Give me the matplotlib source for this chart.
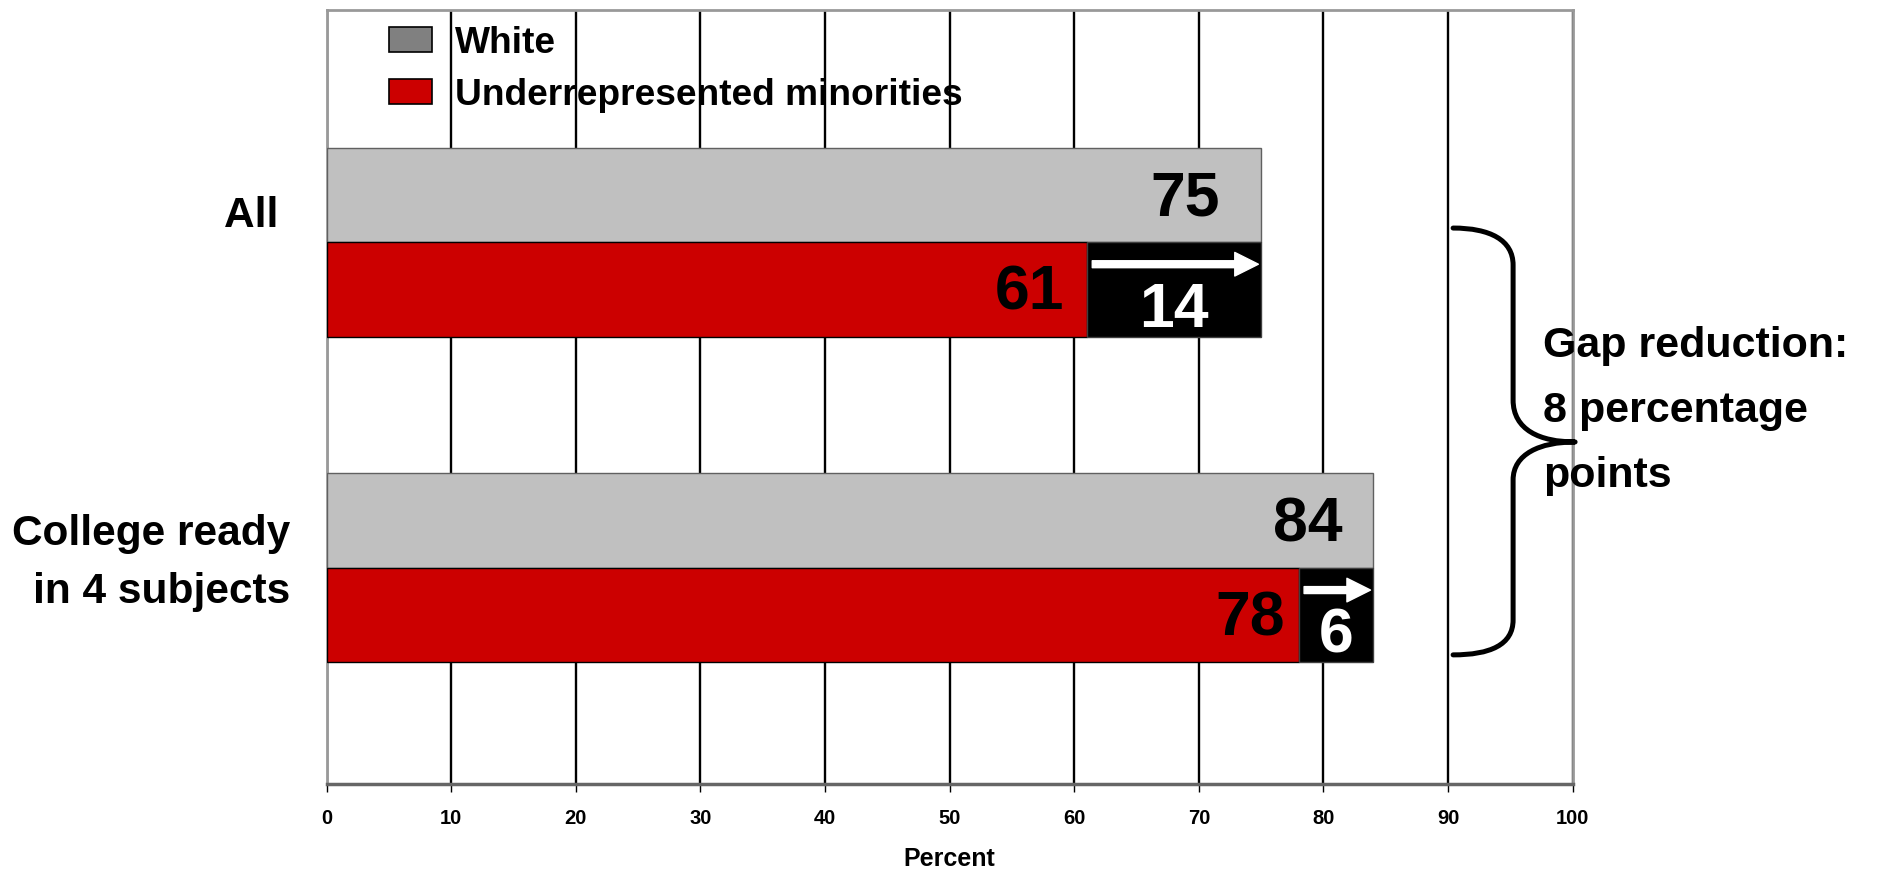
import numpy as np
import matplotlib.pyplot as plt
from matplotlib.patches import Patch, PathPatch
from matplotlib.path import Path

# data
groups = ["All ", "College ready\nin 4 subjects"]
white = [75, 84]
urm = [61, 78]
series_names = ["White", "Underrepresented minorities"]
gap_note = "Gap reduction:\n8 percentage\npoints"
xticks = np.arange(0, 101, 10)

plt.rcParams['font.family'] = ['Liberation Sans', 'DejaVu Sans']
plt.rcParams['font.weight'] = 'bold'
plt.rcParams['axes.labelweight'] = 'bold'

GRAY = '#C0C0C0'
RED = '#CC0000'

fig = plt.figure(figsize=(19.04, 8.73), dpi=100)
ax = fig.add_axes([0.1715, 0.102, 0.6545, 0.8865])

y = np.arange(len(groups))
h = 0.29
white_a = np.array(white)
urm_a = np.array(urm)
gaps = white_a - urm_a

ax.barh(y - h / 2, white_a, height=h, color=GRAY, edgecolor='#606060', linewidth=1, zorder=3)
ax.barh(y + h / 2, urm_a, height=h, color=RED, edgecolor='black', linewidth=1, zorder=3)
ax.barh(y + h / 2, gaps, left=urm_a, height=h, color='black', edgecolor='#404040', linewidth=1, zorder=3)

# value labels inside the bars
white_pad = [30, 22]
urm_pad = [16, 10]
for i in range(len(groups)):
    ax.annotate(str(white_a[i]), xy=(white_a[i], y[i] - h / 2), xytext=(-white_pad[i], -3),
                textcoords='offset points', ha='right', va='center', fontsize=45, zorder=5)
    ax.annotate(str(urm_a[i]), xy=(urm_a[i], y[i] + h / 2), xytext=(-urm_pad[i], -3),
                textcoords='offset points', ha='right', va='center', fontsize=45, zorder=5)
    ax.annotate(str(gaps[i]), xy=(urm_a[i] + gaps[i] / 2, y[i] + h / 2), xytext=(0, -15),
                textcoords='offset points', ha='center', va='center', fontsize=45,
                color='white', zorder=5)
    ay = y[i] + h / 2 - 0.077
    ax.annotate('', xy=(white_a[i], ay), xytext=(urm_a[i], ay),
                arrowprops=dict(arrowstyle='simple,head_length=17,head_width=17,tail_width=5',
                                mutation_scale=1, color='white', shrinkA=4, shrinkB=2),
                zorder=6)

# category labels
label_dy = [-0.08, -0.015]
for i, g in enumerate(groups):
    ax.text(-0.029, y[i] + label_dy[i], g, transform=ax.get_yaxis_transform(),
            ha='right', va='center', multialignment='right', fontsize=30.5, linespacing=1.6)

# curly brace on the right
def sx(px):
    return (px - 326.6) / 12.46

def sy(py):
    return (py - 242) / 326.0

verts = [
    (sx(1453), sy(228)),
    (sx(1490), sy(228)), (sx(1513), sy(240)), (sx(1513), sy(265)),
    (sx(1513), sy(400)),
    (sx(1513), sy(430)), (sx(1540), sy(442)), (sx(1575), sy(442)),
    (sx(1540), sy(442)), (sx(1513), sy(454)), (sx(1513), sy(480)),
    (sx(1513), sy(620)),
    (sx(1513), sy(645)), (sx(1490), sy(655)), (sx(1453), sy(655)),
]
codes = [Path.MOVETO,
         Path.CURVE4, Path.CURVE4, Path.CURVE4,
         Path.LINETO,
         Path.CURVE4, Path.CURVE4, Path.CURVE4,
         Path.CURVE4, Path.CURVE4, Path.CURVE4,
         Path.LINETO,
         Path.CURVE4, Path.CURVE4, Path.CURVE4]
brace = PathPatch(Path(verts, codes), facecolor='none', edgecolor='black', linewidth=3.6,
                  capstyle='round', joinstyle='round', clip_on=False, zorder=6)
ax.add_patch(brace)

ax.text(sx(1543), sy(411), gap_note, ha='left', va='center', fontsize=31, linespacing=1.8,
        clip_on=False, zorder=7)

# legend
handles = [Patch(facecolor='#808080', edgecolor='black', linewidth=1.2, label=series_names[0]),
           Patch(facecolor=RED, edgecolor='black', linewidth=1.2, label=series_names[1])]
ax.legend(handles=handles, loc='upper left', bbox_to_anchor=(0.05, 0.98), frameon=False,
          fontsize=26.7, handlelength=1.16, handleheight=0.68, handletextpad=0.62,
          labelspacing=0.46, borderpad=0, borderaxespad=0)

ax.set_xlim(0, 100)
ax.set_ylim(1.663, -0.712)
ax.set_xticks(xticks)
ax.set_yticks([])
ax.xaxis.grid(True, color='black', linewidth=1.7)
ax.set_axisbelow(True)
for s in ax.spines.values():
    s.set_color('#999999')
    s.set_linewidth(2)
ax.spines['bottom'].set_color('#666666')
ax.spines['bottom'].set_linewidth(2.5)
ax.tick_params(axis='x', direction='out', length=6, width=1, color='black', labelsize=14.5, pad=12)
ax.set_xlabel("Percent", fontsize=18, labelpad=14)

fig.savefig("out.png", dpi=100)
